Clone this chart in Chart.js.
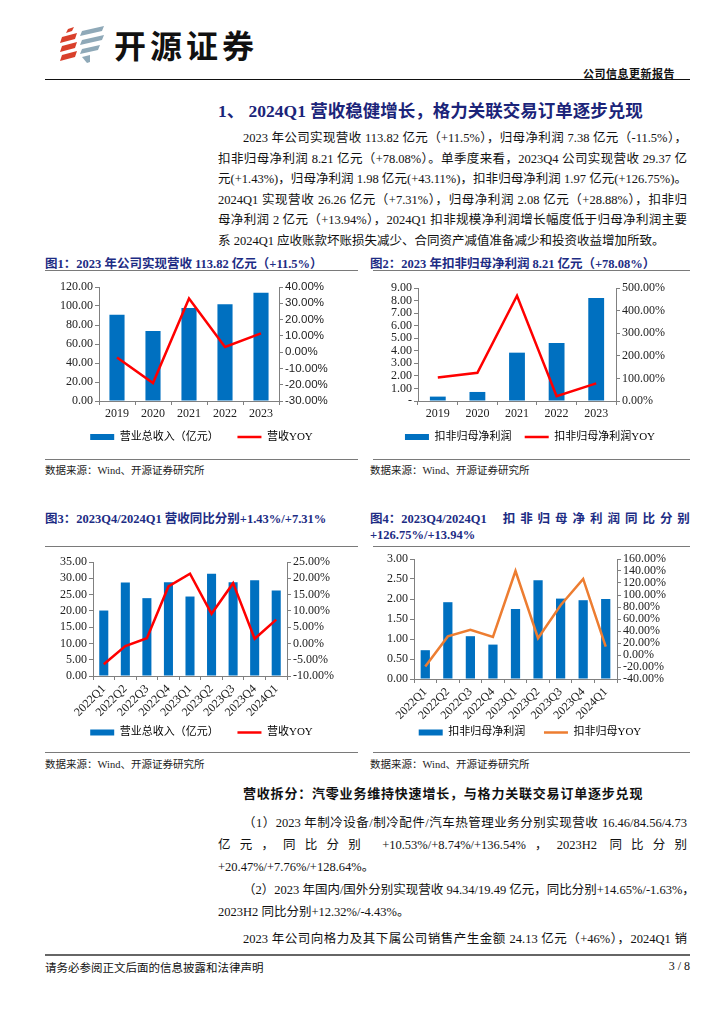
<!DOCTYPE html>
<html>
<head>
<meta charset="utf-8">
<script src="https://cdn.jsdelivr.net/npm/chart.js@4.4.1/dist/chart.umd.min.js"></script>
<style>
  body { margin: 0; width: 724px; height: 1024px; background: #fff; position: relative; overflow: hidden;
         font-family: "Liberation Serif", "Noto Sans CJK SC", serif; color: #111; }
  .abs { position: absolute; white-space: nowrap; }
  .para { position: absolute; left: 218px; width: 469px; font-size: 12.5px; white-space: nowrap; text-align: justify; text-align-last: justify; }
  .para.last { text-align-last: left; }
  .figtitle { position: absolute; font-size: 12.5px; font-weight: bold; color: #1d2c84; white-space: nowrap; }
  .rule { position: absolute; height: 0; border-top: 1.5px solid #7a7a7a; }
  .src { position: absolute; font-size: 10.5px; color: #222; white-space: nowrap; }
  .spread { flex: 1; display: flex; justify-content: space-between; margin-left: 16px; }
  canvas { position: absolute; }
</style>
</head>
<body>

<!-- header -->
<svg class="abs" style="left:60px;top:25px" width="48" height="40" viewBox="0 0 48 40">
  <polygon points="8,4 14,2 12,6 6,8" fill="#d9402b"/>
  <polygon points="2,12 17,8 15,14 0,18" fill="#d9402b"/>
  <polygon points="2,21 17,17 15,23 0,27" fill="#d9402b"/>
  <polygon points="2,30 17,26 15,32 0,36" fill="#d9402b"/>
  <polygon points="22,6 44,1 42,6 20,11" fill="#8fa9b8"/>
  <polygon points="22,15 44,10 42,15 20,20" fill="#8fa9b8"/>
  <polygon points="22,24 40,20 38,25 20,29" fill="#8fa9b8"/>
  <polygon points="22,32 30,30 30,37 27,38" fill="#8fa9b8"/>
</svg>
<div class="abs" style="left:114px;top:21px;font-family:'Noto Sans CJK SC';font-weight:bold;font-size:32px;letter-spacing:4px;color:#111">开源证券</div>
<div class="abs" style="left:583px;top:65px;font-size:11px;font-weight:bold;font-family:'Noto Sans CJK SC';letter-spacing:0.5px">公司信息更新报告</div>
<div class="abs" style="left:45px;top:79px;width:645px;border-top:1.5px solid #111"></div>

<!-- section 1 -->
<div class="abs" style="left:218px;top:97px;font-size:17.5px;font-weight:bold;color:#1b2479">1、 2024Q1 营收稳健增长，格力关联交易订单逐步兑现</div>
<div class="para" style="top:127px;left:243px;width:444px">2023 年公司实现营收 113.82 亿元（+11.5%），归母净利润 7.38 亿元（-11.5%），</div>
<div class="para" style="top:147.5px">扣非归母净利润 8.21 亿元（+78.08%）。单季度来看，2023Q4 公司实现营收 29.37 亿</div>
<div class="para" style="top:168px">元(+1.43%)，归母净利润 1.98 亿元(+43.11%)，扣非归母净利润 1.97 亿元(+126.75%)。</div>
<div class="para" style="top:188.5px">2024Q1 实现营收 26.26 亿元（+7.31%），归母净利润 2.08 亿元（+28.88%），扣非归</div>
<div class="para" style="top:209px">母净利润 2 亿元（+13.94%），2024Q1 扣非规模净利润增长幅度低于归母净利润主要</div>
<div class="para last" style="top:229.5px">系 2024Q1 应收账款坏账损失减少、合同资产减值准备减少和投资收益增加所致。</div>

<!-- figure titles -->
<div class="figtitle" style="left:45px;top:253px">图1：2023 年公司实现营收 113.82 亿元（+11.5%）</div>
<div class="figtitle" style="left:370px;top:253px">图2：2023 年扣非归母净利润 8.21 亿元（+78.08%）</div>
<div class="rule" style="left:45px;top:270px;width:313px"></div>
<div class="rule" style="left:373px;top:270px;width:317px"></div>

<canvas id="c1" width="313" height="180" style="left:45px;top:275px"></canvas>
<canvas id="c2" width="320" height="180" style="left:370px;top:275px"></canvas>

<div class="rule" style="left:45px;top:459px;width:313px"></div>
<div class="rule" style="left:373px;top:459px;width:317px"></div>
<div class="src" style="left:45px;top:462px">数据来源：Wind、开源证券研究所</div>
<div class="src" style="left:370px;top:462px">数据来源：Wind、开源证券研究所</div>

<div class="figtitle" style="left:45px;top:508px">图3：2023Q4/2024Q1 营收同比分别+1.43%/+7.31%</div>
<div class="figtitle" style="left:370px;top:508px;width:320px;display:flex">
  <span>图4：2023Q4/2024Q1</span>
  <span class="spread"><span>扣</span><span>非</span><span>归</span><span>母</span><span>净</span><span>利</span><span>润</span><span>同</span><span>比</span><span>分</span><span>别</span></span>
</div>
<div class="figtitle" style="left:370px;top:528px">+126.75%/+13.94%</div>
<div class="rule" style="left:45px;top:546px;width:313px"></div>
<div class="rule" style="left:373px;top:546px;width:317px"></div>

<canvas id="c3" width="313" height="200" style="left:45px;top:548px"></canvas>
<canvas id="c4" width="320" height="200" style="left:370px;top:548px"></canvas>

<div class="rule" style="left:45px;top:752px;width:313px"></div>
<div class="rule" style="left:373px;top:752px;width:317px"></div>
<div class="src" style="left:45px;top:756px">数据来源：Wind、开源证券研究所</div>
<div class="src" style="left:370px;top:756px">数据来源：Wind、开源证券研究所</div>

<!-- section 2 -->
<div class="abs" style="left:243px;top:783px;font-size:13px;font-weight:bold;letter-spacing:0.8px">营收拆分：汽零业务维持快速增长，与格力关联交易订单逐步兑现</div>
<div class="para" style="top:812px;left:243px;width:444px">（1）2023 年制冷设备/制冷配件/汽车热管理业务分别实现营收 16.46/84.56/4.73</div>
<div class="para" style="top:834px">亿元，同比分别 +10.53%/+8.74%/+136.54%，2023H2 同比分别</div>
<div class="para last" style="top:856px">+20.47%/+7.76%/+128.64%。</div>
<div class="para" style="top:879px;left:243px;width:444px">（2）2023 年国内/国外分别实现营收 94.34/19.49 亿元，同比分别+14.65%/-1.63%，</div>
<div class="para last" style="top:901px">2023H2 同比分别+12.32%/-4.43%。</div>
<div class="para" style="top:928px;left:243px;width:444px">2023 年公司向格力及其下属公司销售产生金额 24.13 亿元（+46%），2024Q1 销</div>

<!-- footer -->
<div class="abs" style="left:45px;top:954px;width:645px;border-top:2px solid #666"></div>
<div class="abs" style="left:45px;top:959px;font-size:11.5px">请务必参阅正文后面的信息披露和法律声明</div>
<div class="abs" style="left:655px;top:959px;width:35px;text-align:right;font-size:12px">3 / 8</div>

<script>
// annual data
const years = ["2019", "2020", "2021", "2022", "2023"];
const revenue = [90.7, 73.6, 98.0, 101.9, 113.82];
const revenueYoy = [-3.3, -19.0, 32.9, 3.2, 11.5];
const deductedProfit = [0.35, 0.72, 3.85, 4.61, 8.21];
const deductedYoy = [104, 125, 466, 21, 78.08];

// quarterly data
const quarters = ["2022Q1", "2022Q2", "2022Q3", "2022Q4", "2023Q1", "2023Q2", "2023Q3", "2023Q4", "2024Q1"];
const qRevenue = [20.1, 28.7, 23.9, 28.8, 24.4, 31.4, 28.8, 29.37, 26.26];
const qRevenueYoy = [-6.4, -0.8, 1.6, 17.5, 21.4, 9.1, 18.5, 1.43, 7.31];
const qProfit = [0.72, 1.92, 1.07, 0.86, 1.75, 2.47, 2.01, 1.97, 2.00];
const qProfitYoy = [-19, 31, 42, 30, 140, 28, 83, 126.75, 13.94];

// axis ranges: [min, max, step]
const axis1L = [0, 120, 20], axis1R = [-30, 40, 10];
const axis2L = [0, 9, 1], axis2R = [0, 500, 100];
const axis3L = [0, 35, 5], axis3R = [-10, 25, 5];
const axis4L = [0, 3, 0.5], axis4R = [-40, 160, 20];

const BLUE = "#0070C0";
const AXIS = "#808080";
const SERIF = '"Liberation Serif", "Noto Sans CJK SC", serif';
const LEGEND_PAD = 5;

function drawCombo(id, o) {
  // legend sits at the bottom, x axis fills the gap down to it
  const h = document.getElementById(id).height;
  const xHeight = h - o.padBottom - (21 + LEGEND_PAD) - o.plotBottom;

  new Chart(document.getElementById(id), {
    data: {
      labels: o.labels,
      datasets: [
        { type: "bar", label: o.barLabel, data: o.bars, yAxisID: "y", backgroundColor: BLUE,
          categoryPercentage: 1, barPercentage: o.barPct, order: 1 },
        { type: "line", label: o.lineLabel, data: o.line, yAxisID: "y1", borderColor: o.lineColor,
          borderWidth: 2.5, pointRadius: 0, tension: 0, order: 0 }
      ]
    },
    options: {
      responsive: false,
      animation: false,
      font: { family: SERIF },
      layout: { padding: { top: o.padTop, bottom: o.padBottom, left: 0, right: 0 } },
      plugins: {
        tooltip: { enabled: false },
        legend: {
          position: "bottom",
          labels: {
            usePointStyle: true, pointStyleWidth: 24, boxHeight: 6, padding: LEGEND_PAD,
            color: "#222", font: { family: SERIF, size: 11 },
            generateLabels: () => [
              { text: o.barLabel + o.gapText, pointStyle: "rect", fillStyle: BLUE, strokeStyle: BLUE, lineWidth: 0, datasetIndex: 0 },
              { text: o.lineLabel, pointStyle: "line", fillStyle: o.lineColor, strokeStyle: o.lineColor, lineWidth: 2.5, datasetIndex: 1 }
            ]
          }
        }
      },
      scales: {
        x: {
          grid: { drawOnChartArea: false, tickLength: 4, color: AXIS, offset: true },
          border: { color: AXIS },
          ticks: { color: "#222", font: { family: SERIF, size: 12 }, padding: 2, autoSkip: false,
                   minRotation: o.rot, maxRotation: o.rot },
          afterFit: s => { s.height = xHeight; }
        },
        y: {
          position: "left", min: o.left[0], max: o.left[1],
          grid: { drawOnChartArea: false, tickLength: 4, color: AXIS },
          border: { color: AXIS },
          ticks: { stepSize: o.left[2], autoSkip: false, color: "#222", font: { family: SERIF, size: 12 }, padding: 2,
                   callback: o.leftFmt },
          afterFit: s => { s.width = o.leftW; }
        },
        y1: {
          position: "right", min: o.right[0], max: o.right[1],
          grid: { drawOnChartArea: false, tickLength: 4, color: AXIS },
          border: { color: AXIS },
          ticks: { stepSize: o.right[2], autoSkip: false, color: "#222", font: o.rightFont || { family: SERIF, size: 12 }, padding: 2,
                   callback: v => v.toFixed(2) + "%" },
          afterFit: s => { s.width = o.rightW; }
        }
      }
    }
  });
}

drawCombo("c1", {
  labels: years, bars: revenue, line: revenueYoy,
  barLabel: "营业总收入（亿元）", lineLabel: "营收YOY", lineColor: "#FF0000", gapText: "\u2003 ",
  left: axis1L, right: axis1R, leftFmt: v => v.toFixed(2),
  rightFont: { family: '"Liberation Sans", Arial, sans-serif', size: 11.5 },
  barPct: 0.42, rot: 0, padTop: 12, padBottom: 2.5, leftW: 54, rightW: 79, plotBottom: 126
});

drawCombo("c2", {
  labels: years, bars: deductedProfit, line: deductedYoy,
  barLabel: "扣非归母净利润", lineLabel: "扣非归母净利润YOY", lineColor: "#FF0000", gapText: "\u2002 ",
  left: axis2L, right: axis2R, leftFmt: v => (v === 0 ? "-" : v.toFixed(2)),
  barPct: 0.40, rot: 0, padTop: 13, padBottom: 2.5, leftW: 48, rightW: 74, plotBottom: 126
});

drawCombo("c3", {
  labels: quarters, bars: qRevenue, line: qRevenueYoy,
  barLabel: "营业总收入（亿元）", lineLabel: "营收YOY", lineColor: "#FF0000", gapText: "\u2003 ",
  left: axis3L, right: axis3R, leftFmt: v => v.toFixed(2),
  barPct: 0.42, rot: 45, padTop: 14, padBottom: 0, leftW: 48, rightW: 71, plotBottom: 128
});

drawCombo("c4", {
  labels: quarters, bars: qProfit, line: qProfitYoy,
  barLabel: "扣非归母净利润", lineLabel: "扣非归母YOY", lineColor: "#ED7D31", gapText: "\u2003 ",
  left: axis4L, right: axis4R, leftFmt: v => v.toFixed(2),
  barPct: 0.41, rot: 45, padTop: 11, padBottom: 0, leftW: 44, rightW: 73, plotBottom: 131
});
</script>
</body>
</html>
